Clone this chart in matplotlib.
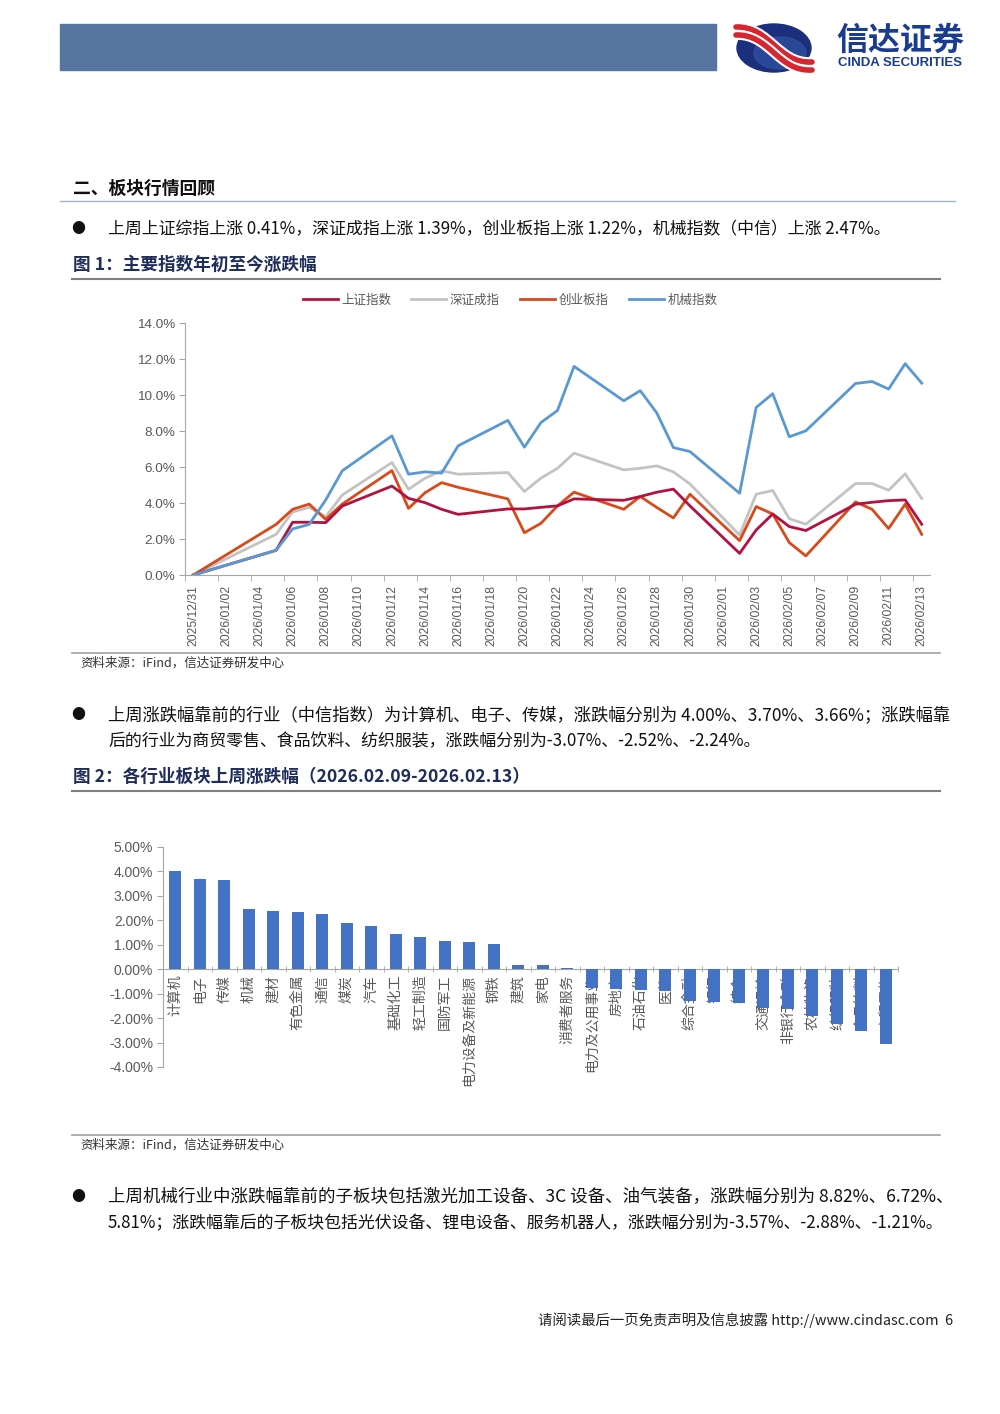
import matplotlib
matplotlib.use('Agg')
import matplotlib.pyplot as plt
from matplotlib.patches import Rectangle, Ellipse, PathPatch
from matplotlib.path import Path
import numpy as np
import pandas as pd

plt.rcParams['font.family'] = ['Noto Sans CJK SC', 'DejaVu Sans']

# ---- figure 1 data: cumulative change since 2025/12/31 (%) ----
trade_dates = ['2025-12-31', '2026-01-05', '2026-01-06', '2026-01-07', '2026-01-08',
               '2026-01-09', '2026-01-12', '2026-01-13', '2026-01-14', '2026-01-15',
               '2026-01-16', '2026-01-19', '2026-01-20', '2026-01-21', '2026-01-22',
               '2026-01-23', '2026-01-26', '2026-01-27', '2026-01-28', '2026-01-29',
               '2026-01-30', '2026-02-02', '2026-02-03', '2026-02-04', '2026-02-05',
               '2026-02-06', '2026-02-09', '2026-02-10', '2026-02-11', '2026-02-12',
               '2026-02-13']
sh_index = [0, 1.37, 2.93, 2.93, 2.91, 3.83, 4.94, 4.26, 4.02, 3.65, 3.37, 3.67, 3.67,
            3.76, 3.84, 4.23, 4.15, 4.36, 4.60, 4.77, 3.84, 1.20, 2.50, 3.39, 2.69,
            2.47, 3.93, 4.04, 4.13, 4.17, 2.82]
sz_index = [0, 2.26, 3.50, 3.76, 3.24, 4.44, 6.25, 4.76, 5.38, 5.79, 5.60, 5.69, 4.64,
            5.38, 5.93, 6.77, 5.84, 5.93, 6.06, 5.73, 5.06, 2.22, 4.49, 4.69, 3.13,
            2.82, 5.08, 5.08, 4.71, 5.62, 4.25]
cyb_index = [0, 2.81, 3.65, 3.94, 3.09, 3.94, 5.80, 3.70, 4.57, 5.13, 4.87, 4.23, 2.35,
             2.87, 3.84, 4.60, 3.65, 4.36, 3.75, 3.17, 4.49, 1.91, 3.80, 3.39, 1.80,
             1.06, 4.06, 3.65, 2.58, 3.93, 2.26]
mach_index = [0, 1.37, 2.56, 2.81, 4.17, 5.79, 7.73, 5.60, 5.73, 5.66, 7.18, 8.59, 7.10,
              8.47, 9.14, 11.59, 9.68, 10.24, 9.00, 7.08, 6.86, 4.54, 9.31, 10.07, 7.68,
              8.01, 10.64, 10.75, 10.33, 11.74, 10.66]
series_names = ['上证指数', '深证成指', '创业板指', '机械指数']
series_colors = ['#B3123E', '#C3C3C3', '#D9491A', '#5A98D2']

# ---- figure 2 data: weekly change by CITIC industry (%) ----
industries = ['计算机', '电子', '传媒', '机械', '建材', '有色金属', '通信', '煤炭', '汽车',
              '基础化工', '轻工制造', '国防军工', '电力设备及新能源', '钢铁', '建筑', '家电',
              '消费者服务', '电力及公用事业', '房地产', '石油石化', '医药', '综合金融', '银行',
              '综合', '交通运输', '非银行金融', '农林牧渔', '纺织服装', '食品饮料', '商贸零售']
weekly_change = [4.00, 3.70, 3.66, 2.47, 2.40, 2.33, 2.24, 1.90, 1.77, 1.44, 1.30, 1.15,
                 1.12, 1.04, 0.19, 0.16, 0.05, -0.78, -0.80, -0.85, -0.91, -1.30, -1.36,
                 -1.40, -1.58, -1.64, -1.92, -2.24, -2.52, -3.07]

W, H = 1000, 1414
GREY = '#595959'
AXC = '#A6A6A6'
NUM_FONT = ['Liberation Sans', 'DejaVu Sans']
BODY_SIZE = 12.2

fig = plt.figure(figsize=(10, 14.14), dpi=100)
renderer = fig.canvas.get_renderer()
page = fig.add_axes([0, 0, 1, 1])
page.set_xlim(0, W)
page.set_ylim(H, 0)
page.axis('off')


def box(l, t, r, b):
    return [l / W, 1 - b / H, (r - l) / W, (b - t) / H]


# header bar and logo
page.add_patch(Rectangle((60, 24), 656, 46, color='#5675A0'))
page.add_patch(Ellipse((774, 48), 74, 48, color='#1C2F7C'))
page.add_patch(Ellipse((780, 53), 52, 32, color='#3557A8', alpha=0.6))
for dy in (0, 8):
    verts = [(736, 27 + dy), (770, 26 + dy), (778, 64 + dy), (812, 62 + dy)]
    p = Path(verts, [Path.MOVETO, Path.CURVE4, Path.CURVE4, Path.CURVE4])
    page.add_patch(PathPatch(p, fill=False, lw=7, ec='white', capstyle='round'))
    page.add_patch(PathPatch(p, fill=False, lw=4, ec='#D8252F', capstyle='round'))
page.text(900, 41, '信达证券', fontsize=23, fontweight='bold', color='#1A3C8F',
          ha='center', va='center')
page.text(900, 63, 'CINDA SECURITIES', fontsize=9.5, fontweight='bold', color='#1A3C8F',
          ha='center', va='center', family=NUM_FONT)

# section heading
page.text(73, 189, '二、板块行情回顾', fontsize=12.8, fontweight='bold', va='center', color='#111111')
page.plot([60, 955], [201, 201], color='#9FB3D1', lw=1)


def fit_line(t, width):
    # stretch a justified line to the text block width
    w = t.get_window_extent(renderer).width
    t.set_fontsize(t.get_fontsize() * width / w)


def bullet(y, lines):
    page.text(78, y, '●', fontsize=10, va='center', ha='center', color='#111111')
    for i, s in enumerate(lines):
        t = page.text(108, y + i * 26, s, fontsize=BODY_SIZE, va='center', color='#111111')
        if i < len(lines) - 1:
            fit_line(t, 842)


def caption(y, s):
    page.text(73, y, s, fontsize=12.7, fontweight='bold', va='center', color='#1F2D5A')
    page.plot([72, 940], [y + 14, y + 14], color='#7F7F7F', lw=1.5)


def source(y):
    page.plot([72, 940], [y, y], color='#A0A0A0', lw=1.2)
    page.text(80, y + 10, '资料来源：iFind，信达证券研发中心', fontsize=9, va='center', color='#333333')


bullet(229, ['上周上证综指上涨 0.41%，深证成指上涨 1.39%，创业板指上涨 1.22%，机械指数（中信）上涨 2.47%。'])
caption(265, '图 1：主要指数年初至今涨跌幅')

# ---- figure 1 ----
ax1 = fig.add_axes(box(185, 323, 930, 575))
dates = pd.to_datetime(trade_dates)
handles = []
for vals, name, c, z in zip([sh_index, sz_index, cyb_index, mach_index], series_names,
                            series_colors, [4, 2, 3, 5]):
    h, = ax1.plot(dates, vals, color=c, lw=2, label=name, zorder=z)
    handles.append(h)
half_day = pd.Timedelta(hours=12)
label_days = pd.date_range('2025-12-31', '2026-02-13', freq='2D')
ax1.set_xlim(label_days[0] - half_day, label_days[-1] + half_day)
ax1.set_xticks(label_days)
ax1.set_xticklabels(label_days.strftime('%Y/%m/%d'), rotation=90, fontsize=8.7,
                    color=GREY, family=NUM_FONT)
ax1.set_xticks(label_days - half_day, minor=True)
ax1.tick_params(axis='x', which='major', length=0, pad=7)
ax1.tick_params(axis='x', which='minor', length=4, color=AXC)
ax1.set_ylim(0, 14)
yt = np.arange(0, 15, 2)
ax1.set_yticks(yt)
ax1.set_yticklabels(['%.1f%%' % v for v in yt], fontsize=9.7, color=GREY, family=NUM_FONT)
ax1.tick_params(axis='y', length=4, color=AXC, pad=3)
for s in ('top', 'right'):
    ax1.spines[s].set_visible(False)
for s in ('left', 'bottom'):
    ax1.spines[s].set_color(AXC)
fig.legend(handles, series_names, loc='center', bbox_to_anchor=(510 / W, 1 - 300 / H),
           ncol=4, frameon=False, fontsize=9, handlelength=2.8, columnspacing=1.6,
           handletextpad=0.3, labelcolor=GREY)

source(653)

bullet(715, ['上周涨跌幅靠前的行业（中信指数）为计算机、电子、传媒，涨跌幅分别为 4.00%、3.70%、3.66%；涨跌幅靠',
             '后的行业为商贸零售、食品饮料、纺织服装，涨跌幅分别为-3.07%、-2.52%、-2.24%。'])
caption(777, '图 2：各行业板块上周涨跌幅（2026.02.09-2026.02.13）')

# ---- figure 2 ----
ax2 = fig.add_axes(box(163, 847, 898, 1067))
x = np.arange(len(industries))
ax2.bar(x, weekly_change, width=0.5, color='#4472C4', zorder=3)
ax2.set_xlim(-0.5, len(industries) - 0.5)
ax2.set_ylim(-4, 5)
ax2.spines['bottom'].set_position(('data', 0))
ax2.set_xticks(x)
ax2.set_xticklabels(industries, rotation=90, fontsize=10, color=GREY)
ax2.set_xticks(np.arange(-0.5, len(industries)), minor=True)
ax2.tick_params(axis='x', which='major', length=0, pad=4)
ax2.tick_params(axis='x', which='minor', length=4, color=AXC, direction='inout')
yt2 = np.arange(-4, 6, 1)
ax2.set_yticks(yt2)
ax2.set_yticklabels(['%.2f%%' % v for v in yt2], fontsize=10, color=GREY, family=NUM_FONT)
ax2.tick_params(axis='y', length=4, color=AXC, pad=3)
for s in ('top', 'right'):
    ax2.spines[s].set_visible(False)
for s in ('left', 'bottom'):
    ax2.spines[s].set_color(AXC)

source(1135)

bullet(1197, ['上周机械行业中涨跌幅靠前的子板块包括激光加工设备、3C 设备、油气装备，涨跌幅分别为 8.82%、6.72%、',
              '5.81%；涨跌幅靠后的子板块包括光伏设备、锂电设备、服务机器人，涨跌幅分别为-3.57%、-2.88%、-1.21%。'])

page.text(953, 1320, '请阅读最后一页免责声明及信息披露 http://www.cindasc.com  6', fontsize=10.4,
          ha='right', va='center', color='#222222')

fig.savefig('out.png', dpi=100)
